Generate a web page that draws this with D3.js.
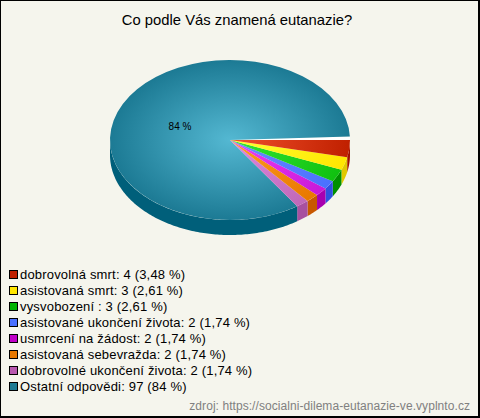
<!DOCTYPE html>
<html><head><meta charset="utf-8">
<script src="https://cdnjs.cloudflare.com/ajax/libs/d3/7.8.5/d3.min.js"></script>
<style>html,body{margin:0;padding:0;background:#f5f5ed}svg{display:block}text{font-family:"Liberation Sans",Arial,sans-serif}</style>
</head><body><svg id="c" width="480" height="418"></svg>
<script>
const title = "Co podle Vás znamená eutanazie?";
const source = "zdroj: https://socialni-dilema-eutanazie-ve.vyplnto.cz";
const categories = ["dobrovolná smrt","asistovaná smrt","vysvobození ","asistované ukončení života","usmrcení na žádost","asistovaná sebevražda","dobrovolné ukončení života","Ostatní odpovědi"];
const counts = [4,3,3,2,2,2,2,97];
const percents = ["3,48 %","2,61 %","2,61 %","1,74 %","1,74 %","1,74 %","1,74 %","84 %"];
const innerColors = ["#f0502c","#ffff33","#33e633","#6a8cff","#f040f4","#ff9c22","#e088e0","#54b8d2"];
const outerColors = ["#c02000","#ffe600","#10c010","#4a70ff","#c818d8","#e87800","#c068b8","#1c7a94"];
const sideColors = ["#a01000","#e0c800","#009000","#3050e0","#a800b0","#c85800","#a850a0","#005f7a"];
const swatchColors = ["#c02000","#ffe600","#00b400","#4a70ff","#c000c8","#e87800","#b858b0","#1c7a94"];

const svg = d3.select("#c");
const W=480,H=418,cx=230,cy=140,rx=120,ry=80,depth=15;
svg.append("rect").attr("x",.5).attr("y",.5).attr("width",W-1.5).attr("height",H-1.5).attr("fill","#f5f5ed").attr("stroke","#000").attr("stroke-width",1);
svg.append("rect").attr("x",0).attr("y",H-2).attr("width",W).attr("height",2).attr("fill","#000");
svg.append("rect").attr("x",W-2).attr("y",0).attr("width",2).attr("height",H).attr("fill","#000");

svg.append("text").attr("x",237).attr("y",25).attr("text-anchor","middle").attr("font-size",14.8).attr("fill","#000").text(title);

// the pie leaves a thin white wedge between its last and first slice
const gap=2.6*Math.PI/180;
const pie = d3.pie().sort(null).startAngle(Math.PI/2).endAngle(Math.PI/2+2*Math.PI-gap);
const arcs = pie(counts);
const defs = svg.append("defs");
arcs.forEach((a,i)=>{
  const g=defs.append("radialGradient").attr("id","g"+i).attr("gradientUnits","userSpaceOnUse").attr("cx",0).attr("cy",0).attr("r",1);
  g.append("stop").attr("offset",0).attr("stop-color",innerColors[i]);
  g.append("stop").attr("offset",1).attr("stop-color",outerColors[i]);
});
const sx=d3.scaleLinear().domain([-1,1]).range([cx-rx,cx+rx]);
const sy=d3.scaleLinear().domain([-1,1]).range([cy-ry,cy+ry]);
// side walls (visible front half only)
arcs.forEach((a,i)=>{
  const t0=a.startAngle-Math.PI/2, t1=Math.min(a.endAngle-Math.PI/2,Math.PI);
  const n=Math.max(2,Math.ceil((t1-t0)*60));
  const ts=d3.range(n+1).map(k=>t0+(t1-t0)*k/n);
  const top=ts.map(t=>[sx(Math.cos(t)),sy(Math.sin(t))]);
  const bot=ts.slice().reverse().map(t=>[sx(Math.cos(t)),sy(Math.sin(t))+depth]);
  svg.append("path").attr("d",d3.line()(top.concat(bot))+"Z").attr("fill",sideColors[i]);
});
// top faces
const face=svg.append("g").attr("transform",`translate(${cx},${cy}) scale(${rx},${ry})`);
const arc=d3.arc().innerRadius(0).outerRadius(1);
face.append("path").attr("d",arc({startAngle:Math.PI/2-gap,endAngle:Math.PI/2})).attr("fill","#fff");
arcs.slice().reverse().forEach((a,j)=>{
  const i=arcs.length-1-j;
  face.append("path").attr("d",arc(a)).attr("fill",`url(#g${i})`);
});

svg.append("text").attr("x",180).attr("y",130).attr("text-anchor","middle").attr("font-size",10).attr("fill","#000").text("84 %");

// legend
const ly=d3.scaleLinear().domain([0,1]).range([275,291]);
const rows=svg.append("g").selectAll("g").data(categories).join("g").attr("transform",(d,i)=>`translate(0,${ly(i)})`);
rows.append("rect").attr("x",9.5).attr("y",-4.5).attr("width",8).attr("height",8).attr("stroke","#000").attr("fill",(d,i)=>swatchColors[i]);
rows.append("text").attr("x",20).attr("y",4).attr("font-size",13).attr("letter-spacing",0.18).attr("fill","#000").text((d,i)=>`${d}: ${counts[i]} (${percents[i]})`);

svg.append("text").attr("x",470).attr("y",410).attr("text-anchor","end").attr("font-size",12).attr("letter-spacing",0.06).attr("fill","#808080").text(source);
</script></body></html>
